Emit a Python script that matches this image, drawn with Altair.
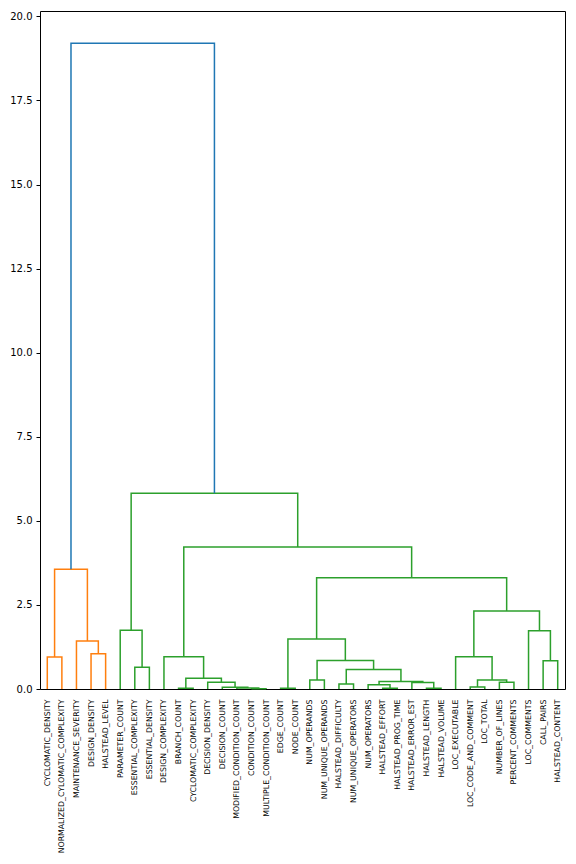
import json
import altair as alt
import pandas as pd

# Leaf labels, in dendrogram order (left to right)
leaves = [
    "CYCLOMATIC_DENSITY", "NORMALIZED_CYLOMATIC_COMPLEXITY", "MAINTENANCE_SEVERITY",
    "DESIGN_DENSITY", "HALSTEAD_LEVEL", "PARAMETER_COUNT", "ESSENTIAL_COMPLEXITY",
    "ESSENTIAL_DENSITY", "DESIGN_COMPLEXITY", "BRANCH_COUNT", "CYCLOMATIC_COMPLEXITY",
    "DECISION_DENSITY", "DECISION_COUNT", "MODIFIED_CONDITION_COUNT", "CONDITION_COUNT",
    "MULTIPLE_CONDITION_COUNT", "EDGE_COUNT", "NODE_COUNT", "NUM_OPERANDS",
    "NUM_UNIQUE_OPERANDS", "HALSTEAD_DIFFICULTY", "NUM_UNIQUE_OPERATORS", "NUM_OPERATORS",
    "HALSTEAD_EFFORT", "HALSTEAD_PROG_TIME", "HALSTEAD_ERROR_EST", "HALSTEAD_LENGTH",
    "HALSTEAD_VOLUME", "LOC_EXECUTABLE", "LOC_CODE_AND_COMMENT", "LOC_TOTAL",
    "NUMBER_OF_LINES", "PERCENT_COMMENTS", "LOC_COMMENTS", "CALL_PAIRS", "HALSTEAD_CONTENT",
]

# Merges: (left, right) -> leaf name or index of an earlier merge
merge_left = [
    "CYCLOMATIC_DENSITY", "DESIGN_DENSITY", "MAINTENANCE_SEVERITY", 0,
    "ESSENTIAL_COMPLEXITY", "PARAMETER_COUNT", "BRANCH_COUNT", "CONDITION_COUNT",
    "MODIFIED_CONDITION_COUNT", "DECISION_COUNT", "DECISION_DENSITY", 6,
    "DESIGN_COMPLEXITY", "EDGE_COUNT", "NUM_OPERANDS", "HALSTEAD_DIFFICULTY",
    "HALSTEAD_EFFORT", "NUM_OPERATORS", "HALSTEAD_LENGTH", "HALSTEAD_ERROR_EST",
    17, 15, 14, 13, "LOC_CODE_AND_COMMENT", "NUMBER_OF_LINES", 24, "LOC_EXECUTABLE",
    "CALL_PAIRS", "LOC_COMMENTS", 27, 23, 12, 5, 3,
]
merge_right = [
    "NORMALIZED_CYLOMATIC_COMPLEXITY", "HALSTEAD_LEVEL", 1, 2,
    "ESSENTIAL_DENSITY", 4, "CYCLOMATIC_COMPLEXITY", "MULTIPLE_CONDITION_COUNT",
    7, 8, 9, 10,
    11, "NODE_COUNT", "NUM_UNIQUE_OPERANDS", "NUM_UNIQUE_OPERATORS",
    "HALSTEAD_PROG_TIME", 16, "HALSTEAD_VOLUME", 18,
    19, 20, 21, 22, "LOC_TOTAL", "PERCENT_COMMENTS", 25, 26,
    "HALSTEAD_CONTENT", 28, 29, 30, 31, 32, 33,
]
merge_height = [
    0.95, 1.05, 1.43, 3.56,
    0.65, 1.75, 0.02, 0.01,
    0.03, 0.05, 0.20, 0.32,
    0.96, 0.02, 0.27, 0.15,
    0.02, 0.13, 0.02, 0.19,
    0.22, 0.58, 0.85, 1.49, 0.06, 0.20, 0.27, 0.96,
    0.84, 1.73, 2.32, 3.31, 4.22, 5.82, 19.2,
]

color_threshold = 0.7 * max(merge_height)
palette_keys = ["C1", "C2", "C3"]
color_range = ["#1f77b4", "#ff7f0e", "#2ca02c", "#d62728"]

leaf_x = {name: 5 + 10 * i for i, name in enumerate(leaves)}
node_x, node_y = [], []
for l, r, h in zip(merge_left, merge_right, merge_height):
    xl = leaf_x[l] if isinstance(l, str) else node_x[l]
    xr = leaf_x[r] if isinstance(r, str) else node_x[r]
    node_x.append((xl + xr) / 2)
    node_y.append(h)

# assign cluster colours top-down
n = len(merge_height)
colors = [None] * n
counter = [0]


def assign(k, parent_above):
    h = merge_height[k]
    if h >= color_threshold:
        colors[k] = "C0"
        for c in (merge_left[k], merge_right[k]):
            if not isinstance(c, str):
                assign(c, True)
    else:
        if parent_above:
            col = palette_keys[counter[0] % len(palette_keys)]
            counter[0] += 1
        else:
            col = None
        fill(k, col)


def fill(k, col):
    colors[k] = col
    for c in (merge_left[k], merge_right[k]):
        if not isinstance(c, str):
            fill(c, col)


assign(n - 1, True)

rows = []
for k in range(n):
    l, r, h = merge_left[k], merge_right[k], merge_height[k]
    xl = leaf_x[l] if isinstance(l, str) else node_x[l]
    yl = 0.0 if isinstance(l, str) else node_y[l]
    xr = leaf_x[r] if isinstance(r, str) else node_x[r]
    yr = 0.0 if isinstance(r, str) else node_y[r]
    pts = [(xl, yl), (xl, h), (xr, h), (xr, yr)]
    for j, (px, py) in enumerate(pts):
        rows.append({"link": k, "step": j, "x": px, "y": py, "c": colors[k]})

df = pd.DataFrame(rows)

xmax = 10 * len(leaves)
ymax = max(merge_height) * 1.05
yticks = [0, 2.5, 5, 7.5, 10, 12.5, 15, 17.5, 20]
label_expr = json.dumps(leaves) + "[floor(datum.value/10)]"

chart = alt.Chart(df).mark_line(strokeWidth=1.5).encode(
    x=alt.X("x:Q", scale=alt.Scale(domain=[0, xmax], nice=False, zero=False),
            axis=alt.Axis(values=[5 + 10 * i for i in range(len(leaves))],
                          labelExpr=label_expr, labelAngle=270, labelFontSize=7.8,
                          tickSize=0, ticks=False, labelPadding=10, labelOverlap=False,
                          labelFlush=False, title=None, grid=False, domain=False)),
    y=alt.Y("y:Q", scale=alt.Scale(domain=[0, ymax], nice=False),
            axis=alt.Axis(values=yticks, format=".1f", labelFontSize=10, tickSize=4,
                          labelPadding=4, labelFlush=False, title=None, grid=False,
                          domain=False)),
    detail="link:N",
    order="step:Q",
    color=alt.Color("c:N", scale=alt.Scale(domain=["C0", "C1", "C2", "C3"], range=color_range),
                    legend=None),
).properties(
    width=525, height=678,
    autosize=alt.AutoSizeParams(type="none"),
    padding={"left": 32, "top": 3, "right": 3, "bottom": 170},
).configure_view(
    stroke="black", strokeWidth=1
).configure_axis(
    labelFont="DejaVu Sans", labelColor="black", tickColor="black"
)

chart.save("out.html", embed_options={"renderer": "svg", "actions": False})
